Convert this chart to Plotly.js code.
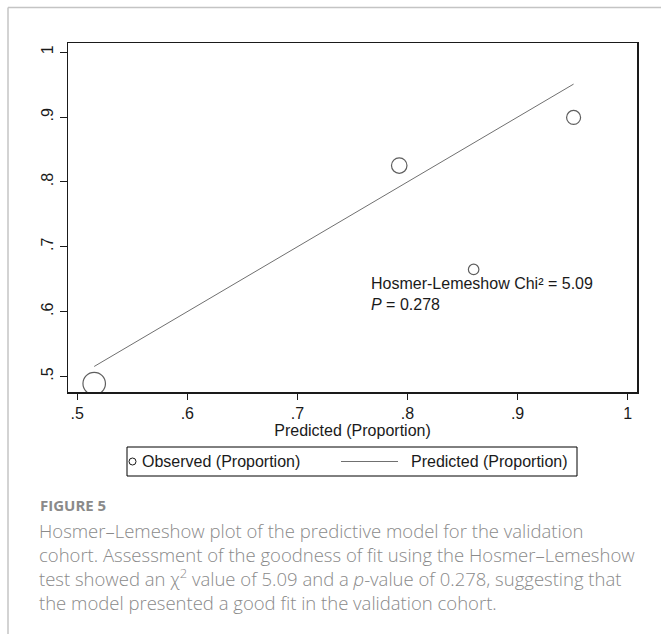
<!DOCTYPE html>
<html>
<head>
<meta charset="utf-8">
<script src="https://cdn.plot.ly/plotly-3.0.1.min.js"></script>
<style>
  html, body { margin: 0; padding: 0; background: #ffffff; }
  #chart { width: 661px; height: 634px; }
</style>
</head>
<body>
<div id="chart"></div>
<script>
// ---- data ----
var predicted = [0.5154, 0.7925, 0.8601, 0.9509];     // x: predicted proportion per group
var observed  = [0.489, 0.8253, 0.665, 0.8995];        // y: observed proportion per group
var groupWeight = [22.5, 15.5, 10.5, 14];               // marker size (group size weighting)
var xTickVals = [0.5, 0.6, 0.7, 0.8, 0.9, 1];
var xTickText = ['.5', '.6', '.7', '.8', '.9', '1'];
var yTickVals = [0.5, 0.6, 0.7, 0.8, 0.9, 1];
var yTickText = ['.5', '.6', '.7', '.8', '.9', '1'];
var seriesNames = ['Observed (Proportion)', 'Predicted (Proportion)'];
var statText = 'Hosmer-Lemeshow Chi² = 5.09<br><i>P</i> = 0.278';
var figureLabel = 'FIGURE 5';
var captionText = 'Hosmer–Lemeshow plot of the predictive model for the validation<br>' +
  'cohort. Assessment of the goodness of fit using the Hosmer–Lemeshow<br>' +
  'test showed an χ<sup>2</sup> value of 5.09 and a <i>p</i>-value of 0.278, suggesting that<br>' +
  'the model presented a good fit in the validation cohort.';

// ---- layout geometry (pixels) ----
var W = 661, H = 634;
var mL = 68, mR = 24, mT = 43, mB = 242;
var pw = W - mL - mR, ph = H - mT - mB;
function px(xp) { return (xp - mL) / pw; }
function py(yp) { return (H - mB - yp) / ph; }

var chartFont = 'Liberation Sans, Arial, Helvetica, sans-serif';
var capFont = 'Open Sans, Noto Sans, sans-serif';

var traces = [
  {
    x: predicted, y: observed,
    type: 'scatter', mode: 'markers',
    name: seriesNames[0],
    marker: { symbol: 'circle-open', size: groupWeight, color: '#1a1a1a', line: { width: 1.2 } },
    showlegend: false, hoverinfo: 'x+y'
  },
  {
    x: predicted, y: predicted,
    type: 'scatter', mode: 'lines',
    name: seriesNames[1],
    line: { color: '#707070', width: 1 },
    showlegend: false, hoverinfo: 'x+y'
  }
];

// legend geometry (pixels)
var lgL = 127, lgR = 577, lgT = 447, lgB = 476, lgY = 461.5;

var shapes = [
  // light grey figure frame (top and left)
  { type: 'line', xref: 'paper', yref: 'paper', x0: px(8), x1: px(W + 5), y0: py(7.5), y1: py(7.5),
    line: { color: '#c4c4c4', width: 1.5 }, layer: 'above' },
  { type: 'line', xref: 'paper', yref: 'paper', x0: px(8), x1: px(8), y0: py(7.5), y1: py(H + 5),
    line: { color: '#c4c4c4', width: 1.5 }, layer: 'above' },
  // legend box
  { type: 'rect', xref: 'paper', yref: 'paper', x0: px(lgL), x1: px(lgR), y0: py(lgB), y1: py(lgT),
    line: { color: '#000000', width: 1 }, fillcolor: 'rgba(0,0,0,0)', layer: 'above' },
  // legend symbol: open circle
  { type: 'circle', xref: 'paper', yref: 'paper', x0: px(129), x1: px(136), y0: py(lgY + 3.5), y1: py(lgY - 3.5),
    line: { color: '#1a1a1a', width: 1 }, fillcolor: 'rgba(0,0,0,0)', layer: 'above' },
  // legend symbol: line
  { type: 'line', xref: 'paper', yref: 'paper', x0: px(341), x1: px(398), y0: py(lgY), y1: py(lgY),
    line: { color: '#707070', width: 1 }, layer: 'above' }
];

var annotations = [
  { xref: 'x', yref: 'y', x: 0.765, y: 0.6265, xanchor: 'left', yanchor: 'middle', align: 'left',
    showarrow: false, text: statText, font: { family: chartFont, size: 16, color: '#1a1a1a' } },
  { xref: 'paper', yref: 'paper', x: px(139.5), y: py(lgY), xanchor: 'left', yanchor: 'middle',
    showarrow: false, text: seriesNames[0], font: { family: chartFont, size: 16, color: '#1a1a1a' } },
  { xref: 'paper', yref: 'paper', x: px(409), y: py(lgY), xanchor: 'left', yanchor: 'middle',
    showarrow: false, text: seriesNames[1], font: { family: chartFont, size: 16, color: '#1a1a1a' } },
  { xref: 'paper', yref: 'paper', x: px(38), y: py(505), xanchor: 'left', yanchor: 'middle',
    showarrow: false, text: '<b>' + figureLabel + '</b>', font: { family: capFont, size: 15, color: '#8a8a8a' } },
  { xref: 'paper', yref: 'paper', x: px(37), y: py(516), xanchor: 'left', yanchor: 'top', align: 'left',
    showarrow: false, text: captionText, font: { family: capFont, size: 18.5, weight: 300, color: '#8a8a8a' } }
];

var layout = {
  width: W, height: H,
  margin: { l: mL, r: mR, t: mT, b: mB, pad: 0 },
  paper_bgcolor: '#ffffff', plot_bgcolor: '#ffffff',
  font: { family: chartFont, size: 16, color: '#1a1a1a' },
  showlegend: false,
  xaxis: {
    range: [0.4916, 1.0085],
    tickmode: 'array', tickvals: xTickVals, ticktext: xTickText,
    ticks: 'outside', ticklen: 6, tickwidth: 1, tickcolor: '#1a1a1a',
    showline: true, mirror: true, linecolor: '#1a1a1a', linewidth: 1.5,
    showgrid: false, zeroline: false,
    tickfont: { family: chartFont, size: 16, color: '#1a1a1a' },
    title: { text: 'Predicted (Proportion)', font: { family: chartFont, size: 16, color: '#1a1a1a' }, standoff: 1 },
    automargin: false
  },
  yaxis: {
    range: [0.476, 1.0143],
    tickmode: 'array', tickvals: yTickVals, ticktext: yTickText,
    tickangle: -90,
    ticks: 'outside', ticklen: 7, tickwidth: 1, tickcolor: '#1a1a1a',
    showline: true, mirror: true, linecolor: '#1a1a1a', linewidth: 1.5,
    showgrid: false, zeroline: false,
    tickfont: { family: chartFont, size: 16, color: '#1a1a1a' },
    automargin: false
  },
  shapes: shapes,
  annotations: annotations
};

Plotly.newPlot('chart', traces, layout, { displayModeBar: false, staticPlot: true });
</script>
</body>
</html>
